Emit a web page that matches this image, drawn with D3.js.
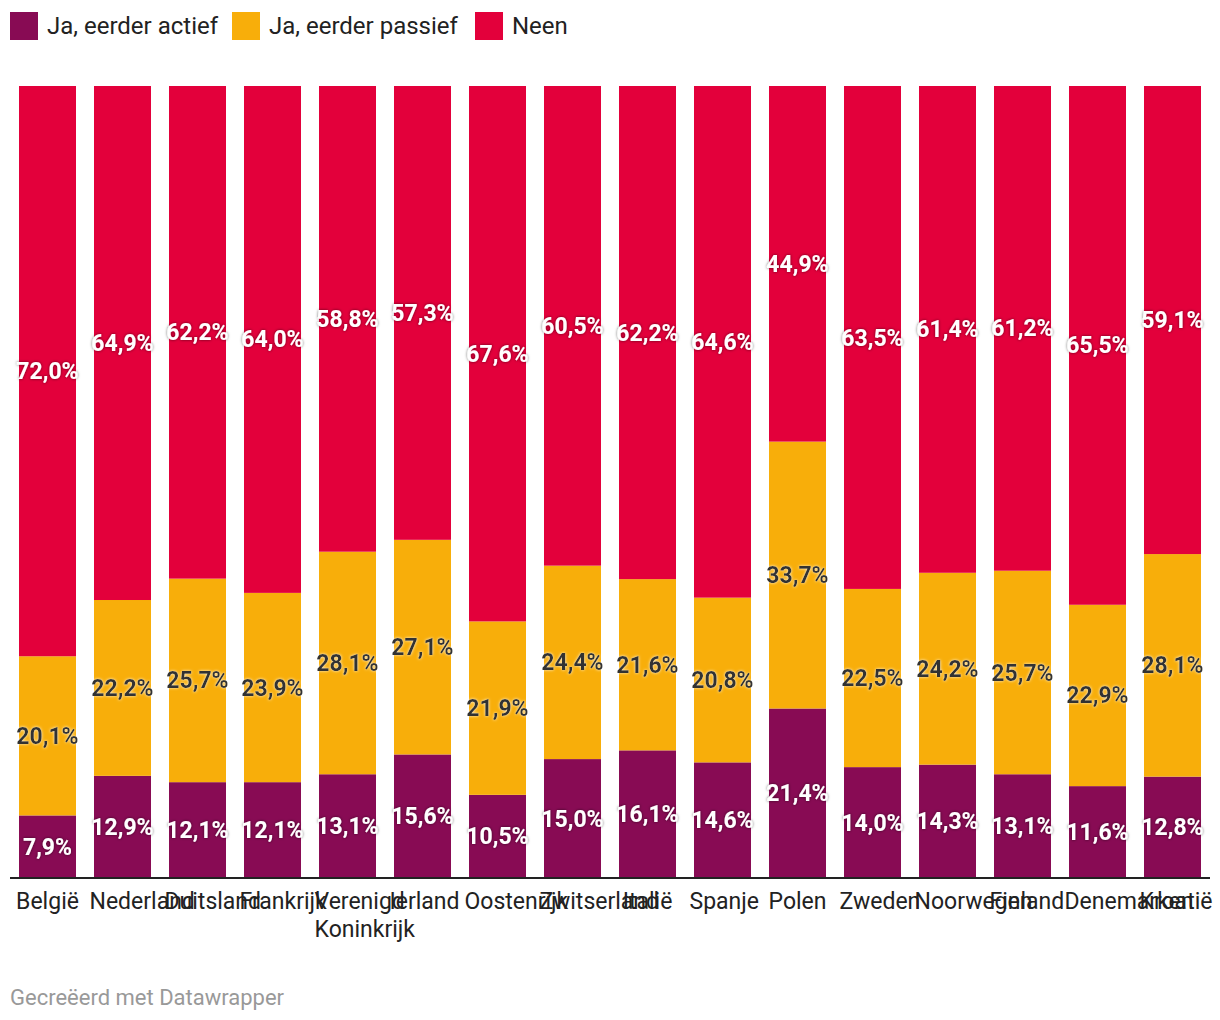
<!DOCTYPE html>
<html><head><meta charset="utf-8">
<script src="https://cdn.jsdelivr.net/npm/d3@7"></script>
<style>
html,body{margin:0;padding:0;background:#fff;}
svg{display:block;font-family:Roboto,"Noto Sans",sans-serif;}
</style></head>
<body>
<svg id="chart" width="1220" height="1020"></svg>
<script>
const categories = ["België","Nederland","Duitsland","Frankrijk","Verenigd Koninkrijk","Ierland","Oostenrijk","Zwitserland","Italië","Spanje","Polen","Zweden","Noorwegen","Finland","Denemarken","Kroatië"];
const seriesNames = ["Ja, eerder actief","Ja, eerder passief","Neen"];
const actief  = [7.9,12.9,12.1,12.1,13.1,15.6,10.5,15.0,16.1,14.6,21.4,14.0,14.3,13.1,11.6,12.8];
const passief = [20.1,22.2,25.7,23.9,28.1,27.1,21.9,24.4,21.6,20.8,33.7,22.5,24.2,25.7,22.9,28.1];
const neen    = [72.0,64.9,62.2,64.0,58.8,57.3,67.6,60.5,62.2,64.6,44.9,63.5,61.4,61.2,65.5,59.1];
const colors = ["#880b54","#f8ae0a","#e3003b"];

const rows = categories.map((c,i)=>({cat:c, s0:actief[i], s1:passief[i], s2:neen[i]}));
const keys = ["s0","s1","s2"];
const stack = d3.stack().keys(keys).offset(d3.stackOffsetExpand)(rows);

const svg = d3.select("#chart");
const defs = svg.append("defs");
const f1 = defs.append("filter").attr("id","darkhalo").attr("x","-20%").attr("y","-40%").attr("width","140%").attr("height","180%");
f1.append("feDropShadow").attr("dx",0).attr("dy",0).attr("stdDeviation",1.6).attr("flood-color","#000").attr("flood-opacity",0.6);
const f2 = defs.append("filter").attr("id","lighthalo").attr("x","-20%").attr("y","-40%").attr("width","140%").attr("height","180%");
f2.append("feDropShadow").attr("dx",0).attr("dy",0).attr("stdDeviation",1.6).attr("flood-color","#fff").attr("flood-opacity",0.85);

const x = d3.scaleBand().domain(categories).range([19,1201]).paddingInner(0.24).paddingOuter(0);
const y = d3.scaleLinear().domain([0,1]).range([878,86]);

// bars
const g = svg.append("g");
stack.forEach((layer,li)=>{
  g.append("g").attr("fill",colors[li]).selectAll("rect").data(layer).join("rect")
    .attr("x",d=>x(d.data.cat)).attr("width",x.bandwidth())
    .attr("y",d=>y(d[1])).attr("height",d=>y(d[0])-y(d[1]));
});

// labels
const fmt = v => v.toFixed(1).replace(".",",") + "%";
stack.forEach((layer,li)=>{
  g.append("g").selectAll("text").data(layer).join("text")
    .attr("x",d=>x(d.data.cat)+x.bandwidth()/2)
    .attr("y",d=>(y(d[0])+y(d[1]))/2)
    .attr("dy","0.35em")
    .attr("text-anchor","middle")
    .attr("font-size",23).attr("font-weight",700)
    .attr("fill", li===1 ? "#333" : "#fff")
    .attr("filter", li===1 ? "url(#lighthalo)" : "url(#darkhalo)")
    .text(d=>fmt(d.data[keys[li]]));
});

// x axis
const axis = d3.axisBottom(x).tickSize(0).tickPadding(0);
const ax = svg.append("g").attr("transform","translate(0,878)").call(axis);
ax.select(".domain").remove();
svg.append("line").attr("x1",10).attr("x2",1210).attr("y1",878).attr("y2",878).attr("stroke","#222").attr("stroke-width",2);
const boxW = 66;
ax.selectAll(".tick text").attr("font-size",23).attr("fill","#222").attr("font-family","Roboto").attr("y",31).attr("dy",0)
  .each(function(d){
    const words = d.split(" ");
    const t = d3.select(this);
    t.text(null).attr("text-anchor","start");
    words.forEach((w,i)=>{
      const sp = t.append("tspan").attr("dy", i===0?0:28).text(w);
      const len = sp.node().getComputedTextLength();
      sp.attr("x", len <= boxW ? -len/2 : -boxW/2);
    });
  });

// legend
const lg = svg.append("g");
const legendX = [10,232,475];
seriesNames.forEach((n,i)=>{
  lg.append("rect").attr("x",legendX[i]).attr("y",12).attr("width",28).attr("height",28).attr("fill",colors[i]);
  lg.append("text").attr("x",legendX[i]+37).attr("y",34).attr("font-size",24).attr("fill","#222").text(n);
});

// footer
svg.append("text").attr("x",10).attr("y",1005).attr("font-size",22).attr("fill","#999").text("Gecreëerd met Datawrapper");
</script>
</body></html>
